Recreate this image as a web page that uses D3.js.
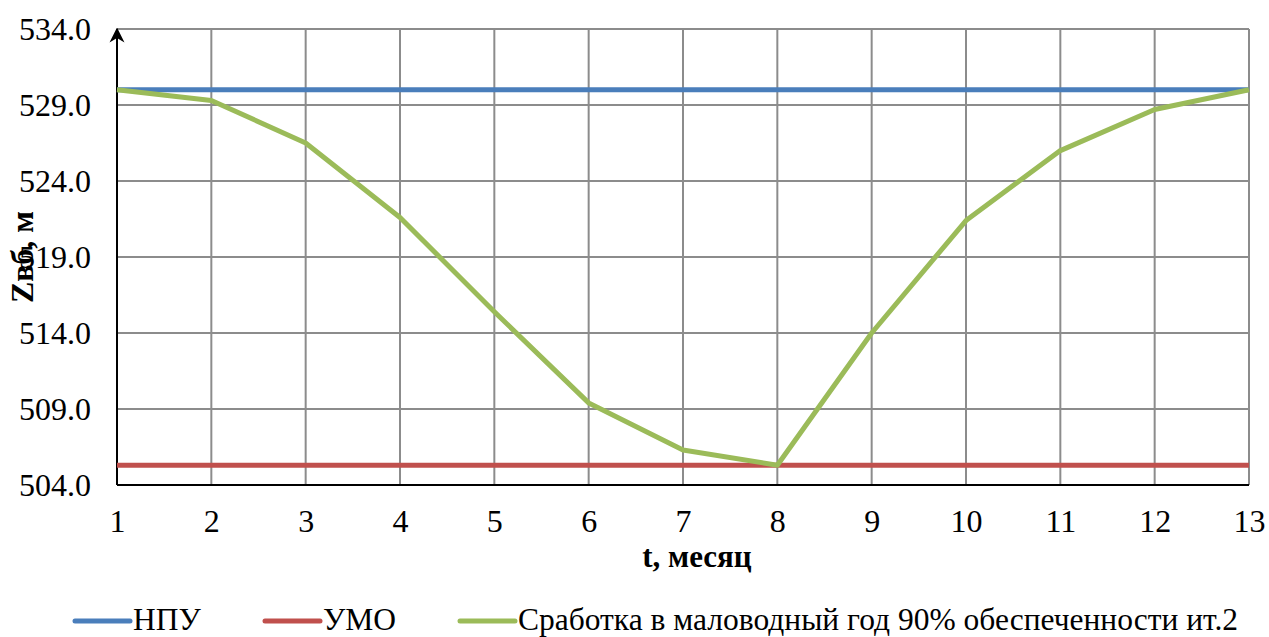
<!DOCTYPE html>
<html>
<head>
<meta charset="utf-8">
<script src="https://cdn.jsdelivr.net/npm/d3@7"></script>
</head>
<body style="margin:0; background:#fff">
<svg id="chart" width="1269" height="637"></svg>
<script>
// Reservoir drawdown chart: water level by month
const months = [1, 2, 3, 4, 5, 6, 7, 8, 9, 10, 11, 12, 13];
const npu = [530.0, 530.0, 530.0, 530.0, 530.0, 530.0, 530.0, 530.0, 530.0, 530.0, 530.0, 530.0, 530.0];
const umo = [505.3, 505.3, 505.3, 505.3, 505.3, 505.3, 505.3, 505.3, 505.3, 505.3, 505.3, 505.3, 505.3];
const drawdown = [530.0, 529.3, 526.5, 521.6, 515.4, 509.4, 506.3, 505.3, 514.0, 521.4, 526.0, 528.7, 530.0];
const yTicks = [504, 509, 514, 519, 524, 529, 534];
const seriesNames = ["НПУ", "УМО", "Сработка в маловодный год 90% обеспеченности ит.2"];
const seriesColors = ["#4a7ebb", "#c0504d", "#9bbb59"];

const FONT = "'Liberation Serif'";
const serif = sel => sel.attr("font-family", FONT).style("font-family", FONT);

const svg = d3.select("#chart");
const plotL = 117, plotR = 1249, plotT = 29, plotB = 485;

const x = d3.scaleLinear().domain([1, 13]).range([plotL, plotR]);
const y = d3.scaleLinear().domain([504, 534]).range([plotB, plotT]);

// grid
const grid = svg.append("g").attr("stroke", "#8c8c8c").attr("stroke-width", 2);
grid.selectAll("line.h").data(yTicks).join("line").attr("class", "h")
  .attr("x1", plotL).attr("x2", plotR)
  .attr("y1", d => y(d)).attr("y2", d => y(d));
grid.selectAll("line.v").data(months).join("line").attr("class", "v")
  .attr("x1", d => x(d)).attr("x2", d => x(d))
  .attr("y1", plotT).attr("y2", plotB);

// axes
const yAxis = d3.axisLeft(y).tickValues(yTicks).tickFormat(d3.format(".1f")).tickSize(0).tickPadding(26);
const xAxis = d3.axisBottom(x).tickValues(months).tickFormat(d3.format("d")).tickSize(0);

const gy = svg.append("g").attr("transform", `translate(${plotL},0)`).call(yAxis);
const gx = svg.append("g").attr("transform", `translate(0,${plotB})`).call(xAxis);
[gy, gx].forEach(g => {
  g.select(".domain").remove();
  g.selectAll("text").call(serif).attr("font-size", 32).attr("fill", "#000");
});
gx.selectAll("text").attr("y", 47).attr("dy", 0);
gy.selectAll("text").attr("dy", "0.34em");

// axis lines with arrow on the vertical one
svg.append("defs").append("marker")
  .attr("id", "arrow").attr("viewBox", "0 0 10 10")
  .attr("refX", 9).attr("refY", 5)
  .attr("markerWidth", 15).attr("markerHeight", 16)
  .attr("markerUnits", "userSpaceOnUse")
  .attr("orient", "auto")
  .append("path").attr("d", "M0,0 L10,5 L0,10 L3,5 Z").attr("fill", "#000");
svg.append("line")
  .attr("x1", plotL).attr("x2", plotL).attr("y1", plotB).attr("y2", plotT)
  .attr("stroke", "#000").attr("stroke-width", 2)
  .attr("marker-end", "url(#arrow)");
svg.append("line")
  .attr("x1", plotL).attr("x2", plotR).attr("y1", plotB).attr("y2", plotB)
  .attr("stroke", "#000").attr("stroke-width", 2);

// series
const line = d3.line().x((d, i) => x(months[i])).y(d => y(d));
[npu, umo, drawdown].forEach((vals, i) => {
  svg.append("path").datum(vals)
    .attr("fill", "none")
    .attr("stroke", seriesColors[i])
    .attr("stroke-width", 5)
    .attr("stroke-linejoin", "round")
    .attr("d", line);
});

// axis titles
svg.append("text")
  .attr("transform", "translate(33,257) rotate(-90)")
  .attr("text-anchor", "middle")
  .call(serif)
  .attr("font-weight", "bold")
  .attr("font-size", 32)
  .attr("fill", "#000")
  .text("Zвб, м");

svg.append("text")
  .attr("x", 697).attr("y", 567)
  .attr("text-anchor", "middle")
  .call(serif)
  .attr("font-weight", "bold")
  .attr("font-size", 31)
  .attr("fill", "#000")
  .text("t, месяц");

// legend
const legendX = [75, 265, 460];
seriesNames.forEach((name, i) => {
  svg.append("line")
    .attr("x1", legendX[i]).attr("x2", legendX[i] + 55)
    .attr("y1", 621).attr("y2", 621)
    .attr("stroke", seriesColors[i]).attr("stroke-width", 5)
    .attr("stroke-linecap", "round");
  svg.append("text")
    .attr("x", legendX[i] + 58).attr("y", 630)
    .call(serif)
    .attr("font-size", 31.5)
    .attr("fill", "#000")
    .text(name);
});
</script>
</body>
</html>
